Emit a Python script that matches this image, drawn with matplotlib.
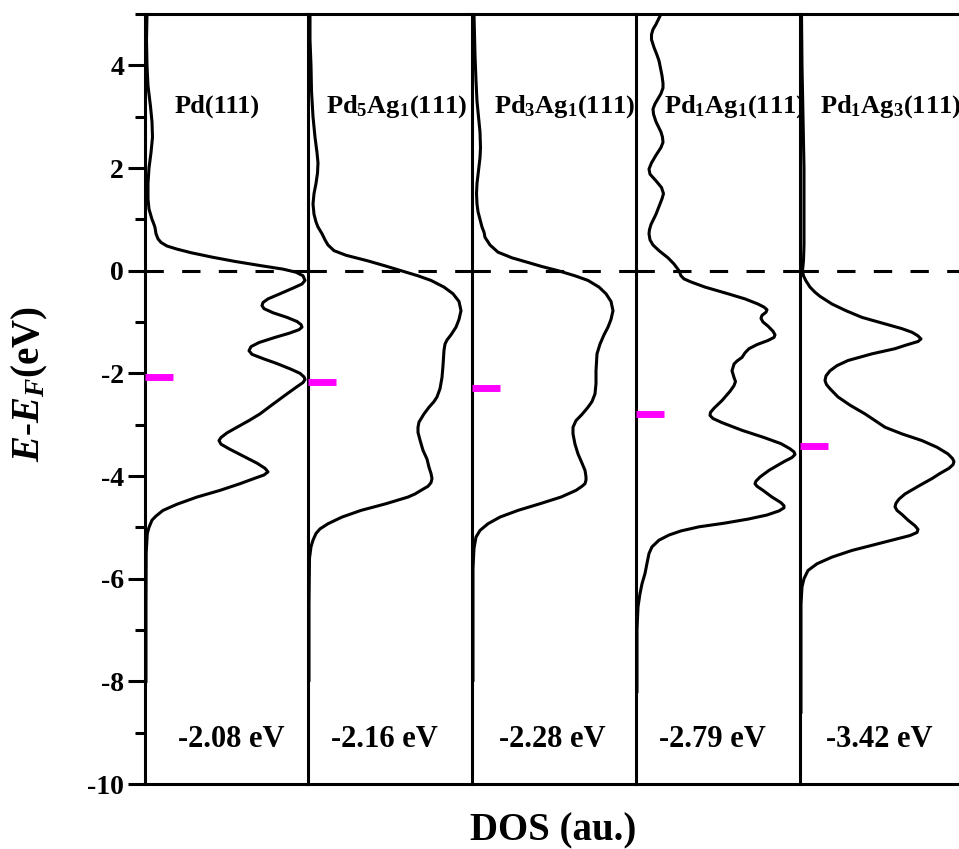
import numpy as np
import matplotlib.pyplot as plt
from matplotlib.ticker import MultipleLocator

plt.rcParams['font.family'] = 'Liberation Serif'
plt.rcParams['font.weight'] = 'bold'
plt.rcParams['mathtext.fontset'] = 'custom'
plt.rcParams['mathtext.rm'] = 'Liberation Serif:bold'
plt.rcParams['mathtext.it'] = 'Liberation Serif:italic:bold'
plt.rcParams['mathtext.bf'] = 'Liberation Serif:bold'
plt.rcParams['axes.unicode_minus'] = False

# surfaces, d-band centres (eV)
names = ['Pd(111)', r'Pd$_\mathrm{5}$Ag$_\mathrm{1}$(111)', r'Pd$_\mathrm{3}$Ag$_\mathrm{1}$(111)',
         r'Pd$_\mathrm{1}$Ag$_\mathrm{1}$(111)', r'Pd$_\mathrm{1}$Ag$_\mathrm{3}$(111)']
centers = [-2.08, -2.16, -2.28, -2.79, -3.42]
center_labels = ['-2.08 eV', '-2.16 eV', '-2.28 eV', '-2.79 eV', '-3.42 eV']

# d-DOS: (E - EF, DOS in au.)
pd111 = np.array([
    (5.0, 2), (4.5, 1.5), (4.0, 2), (3.6, 3), (3.2, 5.5), (2.9, 7), (2.6, 7.5),
    (2.3, 6), (2.0, 4), (1.7, 3), (1.4, 3), (1.2, 4), (1.0, 7), (0.9, 9), (0.84, 10),
    (0.72, 11), (0.62, 13), (0.55, 16), (0.48, 22), (0.42, 32), (0.35, 46), (0.26, 68),
    (0.18, 90), (0.1, 115), (0.03, 138), (-0.03, 151), (-0.1, 158), (-0.19, 160),
    (-0.26, 157), (-0.34, 148), (-0.45, 135), (-0.55, 123), (-0.62, 118), (-0.68, 117),
    (-0.74, 119), (-0.82, 128), (-0.91, 142), (-0.99, 152), (-1.05, 156), (-1.1, 157),
    (-1.15, 154), (-1.22, 144), (-1.3, 130), (-1.4, 114), (-1.48, 106), (-1.56, 104),
    (-1.63, 107), (-1.72, 119), (-1.81, 132), (-1.92, 146), (-2.0, 155), (-2.07, 159),
    (-2.12, 160), (-2.18, 158), (-2.26, 152), (-2.4, 142), (-2.6, 128), (-2.79, 115),
    (-2.92, 104), (-3.05, 92), (-3.16, 82), (-3.25, 76), (-3.31, 74), (-3.38, 76),
    (-3.47, 84), (-3.6, 97), (-3.75, 112), (-3.85, 120), (-3.92, 123), (-3.98, 119),
    (-4.05, 109), (-4.15, 95), (-4.28, 75), (-4.41, 52), (-4.55, 32), (-4.67, 18),
    (-4.78, 11), (-4.86, 7), (-5.0, 4), (-5.12, 2.3), (-5.5, 1.2), (-6.5, 1), (-8.0, 1)])

pd5ag1 = np.array([
    (5.0, 2), (4.5, 2), (4.0, 3), (3.5, 3.5), (3.0, 5), (2.6, 7), (2.3, 9), (2.1, 10),
    (1.9, 9.5), (1.7, 8), (1.5, 6), (1.3, 5), (1.1, 6), (0.95, 8), (0.85, 10),
    (0.72, 14), (0.6, 17), (0.5, 20), (0.39, 26), (0.3, 38), (0.19, 60), (0.1, 76),
    (0.0, 93), (-0.1, 110), (-0.19, 123), (-0.32, 136), (-0.45, 145), (-0.6, 151),
    (-0.78, 153), (-0.95, 151), (-1.1, 148), (-1.25, 143), (-1.35, 139), (-1.43, 137),
    (-1.55, 136), (-1.7, 135.5), (-1.85, 135), (-2.08, 134), (-2.3, 132), (-2.46, 129),
    (-2.55, 126), (-2.66, 121), (-2.79, 116), (-2.95, 111), (-3.05, 110), (-3.15, 110),
    (-3.3, 112), (-3.5, 115), (-3.67, 119), (-3.83, 121), (-3.95, 123), (-4.05, 124),
    (-4.13, 123), (-4.2, 120), (-4.28, 113), (-4.35, 107), (-4.41, 100), (-4.54, 78),
    (-4.67, 53), (-4.8, 34), (-4.93, 20), (-5.03, 12), (-5.12, 8), (-5.25, 5),
    (-5.38, 3), (-5.6, 1.5), (-6.5, 1), (-7.98, 1)])

pd3ag1 = np.array([
    (5.0, 2), (4.6, 2.5), (4.2, 3), (3.7, 4), (3.3, 5), (3.0, 6.5), (2.7, 8), (2.4, 8.5),
    (2.2, 8), (1.95, 6.5), (1.7, 5), (1.5, 4.5), (1.3, 5), (1.15, 6), (1.0, 8),
    (0.85, 10), (0.75, 12), (0.65, 13), (0.5, 18), (0.36, 26), (0.25, 40), (0.16, 56),
    (0.08, 70), (0.0, 86), (-0.1, 103), (-0.19, 116), (-0.32, 127), (-0.45, 134),
    (-0.6, 139), (-0.78, 141), (-0.95, 139), (-1.1, 136), (-1.25, 132), (-1.43, 128),
    (-1.62, 125), (-1.95, 124), (-2.2, 124), (-2.4, 123), (-2.55, 120), (-2.66, 116),
    (-2.8, 110), (-2.92, 104), (-3.05, 101), (-3.18, 101), (-3.38, 103), (-3.57, 106),
    (-3.75, 110), (-3.89, 113), (-3.95, 113.5), (-4.02, 114), (-4.08, 114), (-4.15, 113),
    (-4.2, 110), (-4.28, 104), (-4.41, 89), (-4.54, 68), (-4.67, 46), (-4.8, 28),
    (-4.93, 16), (-5.06, 8), (-5.19, 4), (-5.41, 2), (-5.8, 1), (-7.98, 1)])

pd1ag1 = np.array([
    (5.0, 25), (4.9, 22.5), (4.8, 20), (4.7, 17), (4.6, 15.5), (4.5, 15.5), (4.35, 18),
    (4.2, 21), (4.09, 23), (3.8, 26), (3.65, 27), (3.56, 27), (3.45, 25), (3.35, 22),
    (3.25, 19), (3.15, 17), (3.05, 17.5), (2.9, 20), (2.7, 25), (2.6, 26.5), (2.5, 27),
    (2.4, 25), (2.25, 20), (2.1, 15.5), (1.98, 13), (1.88, 14), (1.75, 20), (1.62, 25.5),
    (1.5, 27.5), (1.4, 26), (1.3, 24), (1.1, 20), (0.9, 15), (0.8, 13.5), (0.72, 13),
    (0.6, 14), (0.5, 17), (0.39, 23), (0.25, 32), (0.13, 38), (0.0, 43), (-0.1, 45),
    (-0.16, 48), (-0.22, 55), (-0.32, 69), (-0.45, 92), (-0.55, 109), (-0.65, 122),
    (-0.71, 128), (-0.76, 131), (-0.81, 130), (-0.87, 126), (-0.93, 125), (-1.0, 127),
    (-1.08, 132), (-1.18, 137), (-1.25, 139), (-1.3, 138), (-1.36, 132), (-1.44, 121),
    (-1.52, 113), (-1.6, 109), (-1.69, 106), (-1.76, 101), (-1.82, 98), (-1.95, 96),
    (-2.08, 98), (-2.16, 99.5), (-2.24, 98), (-2.35, 94), (-2.53, 86), (-2.68, 78),
    (-2.76, 74.5), (-2.82, 74), (-2.88, 77), (-2.96, 86), (-3.11, 106), (-3.25, 128),
    (-3.37, 145), (-3.47, 154), (-3.53, 158), (-3.58, 159), (-3.64, 156), (-3.72, 148),
    (-3.89, 133), (-4.02, 124), (-4.1, 120), (-4.15, 119), (-4.2, 121), (-4.28, 127),
    (-4.41, 136), (-4.52, 145), (-4.58, 148), (-4.62, 148), (-4.68, 143), (-4.76, 131),
    (-4.84, 112), (-4.92, 88), (-4.99, 63), (-5.07, 45), (-5.15, 33), (-5.25, 23),
    (-5.38, 16), (-5.51, 13), (-5.7, 11), (-5.9, 9), (-6.1, 6), (-6.29, 4), (-6.55, 2),
    (-7.0, 1), (-8.2, 1)])

pd1ag3 = np.array([
    (5.0, 1.5), (4.0, 2), (3.0, 3), (2.0, 4), (1.0, 4), (0.5, 4), (0.2, 3.5), (0.0, 2.5),
    (-0.1, 3.5), (-0.2, 6), (-0.32, 10), (-0.42, 15), (-0.5, 20), (-0.65, 32),
    (-0.78, 46), (-0.91, 62), (-1.02, 82), (-1.13, 102), (-1.2, 112), (-1.27, 118),
    (-1.33, 121), (-1.38, 118), (-1.45, 106), (-1.52, 95), (-1.62, 72), (-1.75, 48),
    (-1.85, 37), (-1.95, 30), (-2.05, 26), (-2.14, 25), (-2.22, 26.5), (-2.3, 30),
    (-2.46, 38), (-2.62, 50), (-2.79, 65), (-2.92, 75), (-3.05, 85), (-3.18, 102),
    (-3.31, 122), (-3.44, 137), (-3.57, 148), (-3.66, 152.5), (-3.72, 154), (-3.78, 153),
    (-3.85, 149), (-3.95, 140), (-4.05, 132), (-4.18, 120), (-4.35, 105), (-4.45, 99),
    (-4.53, 96), (-4.6, 95), (-4.67, 97), (-4.75, 102), (-4.86, 108), (-4.97, 115),
    (-5.04, 118), (-5.1, 117), (-5.16, 110), (-5.24, 94), (-5.32, 78), (-5.45, 52),
    (-5.58, 32), (-5.71, 17), (-5.84, 8), (-6.0, 4), (-6.16, 2), (-6.5, 1), (-8.6, 1)])

series = [pd111, pd5ag1, pd3ag1, pd1ag1, pd1ag3]

W, H = 959, 849
fig = plt.figure(figsize=(W / 100, H / 100), dpi=100)

edges = [145, 308, 472, 636, 800, 964]
name_x = [30, 18, 22, 28, 20]
val_x = [86, 76, 80, 76, 79]

for i, data in enumerate(series):
    x0, x1 = edges[i], edges[i + 1]
    ax = fig.add_axes([x0 / W, 1 - 784 / H, (x1 - x0) / W, 770 / H])
    ax.set_xlim(0, x1 - x0)
    ax.set_ylim(-10, 5)
    ax.axhline(0, color='k', ls=(0, (6, 6)), lw=2.2, zorder=2)
    ax.plot(data[:, 1], data[:, 0], color='k', lw=2.2, zorder=3,
            solid_joinstyle='round')
    ax.plot([0, 28], [centers[i], centers[i]], color='#ff00ff', lw=5,
            solid_capstyle='butt', zorder=4)
    ax.text(name_x[i], 3.2, names[i], fontsize=19, fontweight='bold',
            ha='left', va='center', clip_on=False)
    ax.text(val_x[i], -9.14, center_labels[i], fontsize=22, fontweight='bold',
            ha='center', va='center')
    for s in ['left', 'top', 'bottom']:
        ax.spines[s].set_linewidth(2.2)
    ax.spines['right'].set_visible(False)
    ax.set_xticks([])
    if i == 0:
        ax.set_yticks(np.arange(-10, 5, 2))
        ax.yaxis.set_minor_locator(MultipleLocator(1))
        ax.tick_params(axis='y', which='major', direction='out', length=12,
                       width=2.2, labelsize=20, pad=3)
        ax.tick_params(axis='y', which='minor', direction='out', length=7, width=2.2)
    else:
        ax.set_yticks([])

fig.text(30 / W, 1 - 384 / H, r'$E$-$E_F$(eV)', rotation=90, fontsize=28,
         fontweight='bold', ha='center', va='center')
fig.text(553 / W, 1 - 831 / H, 'DOS (au.)', fontsize=28, fontweight='bold',
         ha='center', va='center')

fig.savefig('out.png', dpi=100)
